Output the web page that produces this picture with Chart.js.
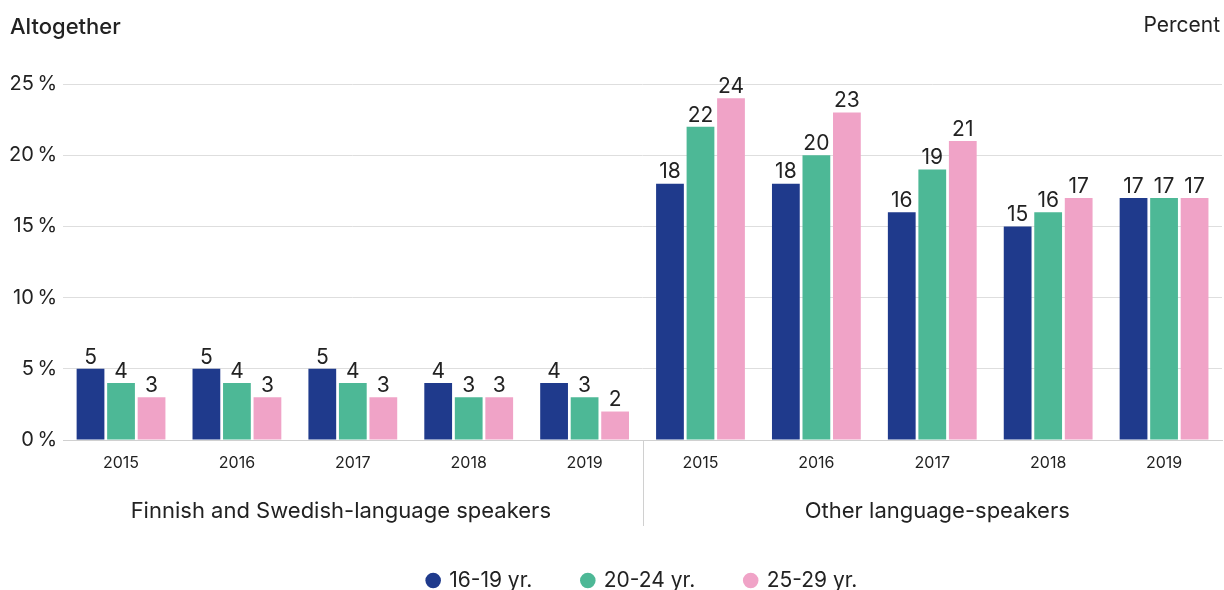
<!DOCTYPE html>
<html>
<head>
<meta charset="utf-8">
<script src="https://cdn.jsdelivr.net/npm/chart.js@4"></script>
<style>
  html, body { margin: 0; padding: 0; background: #fff; overflow: hidden; }
  #wrap { width: 1224px; height: 590px; overflow: hidden; }
</style>
</head>
<body>
<div id="wrap"><canvas id="chart" width="1224" height="601"></canvas></div>
<script>
// data
const years = ['2015', '2016', '2017', '2018', '2019', '2015', '2016', '2017', '2018', '2019'];
const groups = ['Finnish and Swedish-language speakers', 'Other language-speakers'];
const seriesNames = ['16-19 yr.', '20-24 yr.', '25-29 yr.'];
const age16to19 = [5, 5, 5, 4, 4, 18, 18, 16, 15, 17];
const age20to24 = [4, 4, 4, 3, 3, 22, 20, 19, 16, 17];
const age25to29 = [3, 3, 3, 3, 2, 24, 23, 21, 17, 17];
const yTicks = [0, 5, 10, 15, 20, 25];

const colors = ['#1f3a8c', '#4db896', '#f0a3c7'];
const font = 'Inter, "Open Sans", sans-serif';
const textColor = '#222';

// labels above bars, group names, separator, title
const extras = {
  id: 'extras',
  afterDatasetsDraw(chart) {
    const ctx = chart.ctx;
    ctx.save();
    ctx.fillStyle = textColor;
    ctx.font = '21px ' + font;
    ctx.textAlign = 'center';
    ctx.textBaseline = 'bottom';
    chart.data.datasets.forEach((ds, i) => {
      chart.getDatasetMeta(i).data.forEach((bar, j) => {
        ctx.fillText(String(ds.data[j]), bar.x, bar.y - 1);
      });
    });
    ctx.restore();
  },
  afterDraw(chart) {
    const ctx = chart.ctx;
    const x = chart.scales.x;
    const area = chart.chartArea;
    ctx.save();
    // separator between the two groups
    const sepX = (x.getPixelForValue(4) + x.getPixelForValue(5)) / 2;
    ctx.strokeStyle = '#d0d0d0';
    ctx.lineWidth = 1;
    ctx.beginPath();
    ctx.moveTo(Math.round(sepX) + 0.5, area.bottom);
    ctx.lineTo(Math.round(sepX) + 0.5, area.bottom + 86);
    ctx.stroke();

    ctx.fillStyle = textColor;
    ctx.font = '22px ' + font;
    ctx.textAlign = 'center';
    ctx.textBaseline = 'middle';
    ctx.fillText(groups[0], (area.left + sepX) / 2 - 12, area.bottom + 71);
    ctx.fillText(groups[1], (sepX + area.right) / 2 + 5, area.bottom + 71);

    ctx.font = '500 22px ' + font;
    ctx.textAlign = 'left';
    ctx.fillText('Altogether', 10, 27);
    ctx.font = '21px ' + font;
    ctx.textAlign = 'right';
    ctx.fillText('Percent', 1220, 26);
    ctx.restore();
  }
};

new Chart(document.getElementById('chart'), {
  type: 'bar',
  data: {
    labels: years,
    datasets: [age16to19, age20to24, age25to29].map((d, i) => ({
      label: seriesNames[i],
      data: d,
      backgroundColor: colors[i],
      categoryPercentage: 0.79,
      barPercentage: 0.91
    }))
  },
  options: {
    responsive: false,
    animation: false,
    layout: { padding: { top: 84, right: 2, left: 3, bottom: 0 } },
    plugins: {
      legend: {
        position: 'bottom',
        fullSize: false,
        labels: {
          usePointStyle: true,
          pointStyle: 'circle',
          boxWidth: 11,
          boxHeight: 11,
          padding: 50,
          color: textColor,
          font: { family: font, size: 21 }
        }
      },
      tooltip: { enabled: false }
    },
    scales: {
      x: {
        grid: { display: false },
        border: { color: '#d0d0d0' },
        ticks: { color: textColor, font: { family: font, size: 16 }, padding: 6 },
        afterFit(s) { s.height = 80; }
      },
      y: {
        min: 0,
        max: 25,
        afterBuildTicks(s) { s.ticks = yTicks.map(v => ({ value: v })); },
        grid: { color: '#dedede', drawTicks: false },
        border: { display: false },
        ticks: {
          color: textColor,
          padding: 6,
          font: { family: font, size: 20 },
          callback: v => v + '\u2009%'
        }
      }
    }
  },
  plugins: [extras]
});
</script>
</body>
</html>
